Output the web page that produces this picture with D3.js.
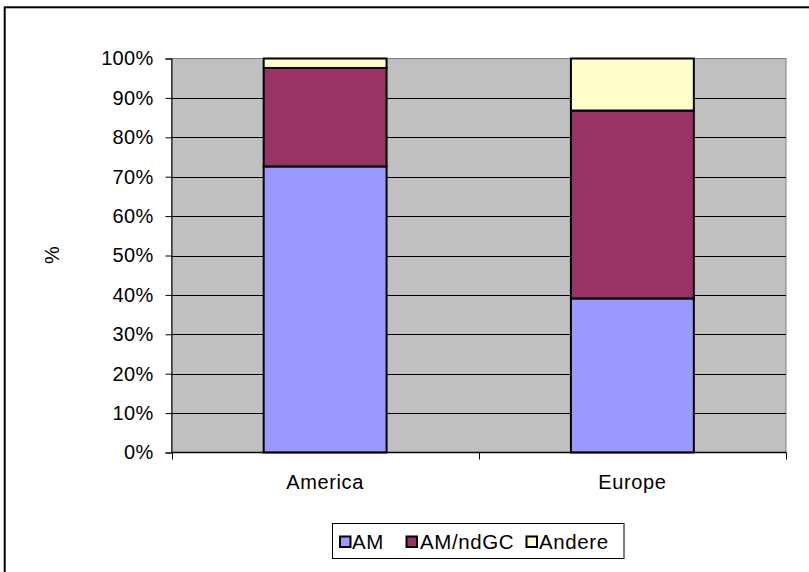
<!DOCTYPE html>
<html>
<head>
<meta charset="utf-8">
<script src="https://cdn.jsdelivr.net/npm/d3@7"></script>
<style>
  html, body { margin: 0; padding: 0; background: #fff; }
  svg { display: block; font-family: Arial, "Liberation Sans", sans-serif; }
</style>
</head>
<body>
<svg id="chart" width="809" height="572"></svg>
<script>
// Regions on the x axis
const categories = ["America", "Europe"];
// Stacked shares (percent) per series, in stacking order
const seriesNames = ["AM", "AM/ndGC", "Andere"];
const amValues = [72.6, 39.1];
const amNdgcValues = [25.0, 47.7];
const andereValues = [2.4, 13.2];
const seriesColors = ["#9999FF", "#993366", "#FFFFCC"];
const yTicks = [0, 10, 20, 30, 40, 50, 60, 70, 80, 90, 100];
const yTitle = "%";

const svg = d3.select("#chart");
const W = 809, H = 572;
const FONT = 20;

// outer frame
svg.append("rect")
  .attr("x", 4.7).attr("y", 7.3)
  .attr("width", W + 10).attr("height", H + 10)
  .attr("fill", "#fff").attr("stroke", "#000").attr("stroke-width", 2);

const plot = { left: 171.5, right: 786, top: 58.5, bottom: 452.5 };

const x = d3.scaleBand()
  .domain(categories)
  .range([plot.left, plot.right])
  .paddingInner(0.6)
  .paddingOuter(0.3);

const y = d3.scaleLinear().domain([0, 100]).range([plot.bottom, plot.top]);

// plot background
svg.append("rect")
  .attr("x", plot.left).attr("y", plot.top)
  .attr("width", plot.right - plot.left).attr("height", plot.bottom - plot.top)
  .attr("fill", "#C0C0C0").attr("stroke", "#808080").attr("stroke-width", 1);

// horizontal gridlines
svg.append("g").selectAll("line")
  .data(yTicks.filter(d => d > 0 && d < 100))
  .join("line")
  .attr("x1", plot.left).attr("x2", plot.right)
  .attr("y1", d => Math.round(y(d)) + 0.5).attr("y2", d => Math.round(y(d)) + 0.5)
  .attr("stroke", "#000").attr("stroke-width", 1);

// stacked bars
const table = categories.map((c, i) => ({
  category: c,
  "AM": amValues[i],
  "AM/ndGC": amNdgcValues[i],
  "Andere": andereValues[i]
}));
const stacked = d3.stack().keys(seriesNames)(table);

svg.append("g").selectAll("g")
  .data(stacked)
  .join("g")
  .attr("fill", (d, i) => seriesColors[i])
  .selectAll("rect")
  .data(d => d)
  .join("rect")
  .attr("x", d => x(d.data.category))
  .attr("width", x.bandwidth())
  .attr("y", d => y(d[1]))
  .attr("height", d => y(d[0]) - y(d[1]))
  .attr("stroke", "#000").attr("stroke-width", 2);

// y axis
const yAxis = d3.axisLeft(y)
  .tickValues(yTicks)
  .tickFormat(d => d + "%")
  .tickSize(6)
  .tickPadding(12);
const gy = svg.append("g")
  .attr("transform", `translate(${plot.left},0)`)
  .call(yAxis);
gy.select(".domain").attr("stroke", "#000").attr("stroke-width", 1);
gy.selectAll(".tick line").attr("stroke", "#000");
gy.selectAll("text")
  .attr("font-size", FONT)
  .attr("fill", "#000")
  .attr("letter-spacing", 0.3)
  .attr("font-family", "Arial, 'Liberation Sans', sans-serif");

// x axis: ticks at category boundaries
const xAxisLine = svg.append("g");
xAxisLine.append("line")
  .attr("x1", plot.left).attr("x2", plot.right)
  .attr("y1", plot.bottom).attr("y2", plot.bottom)
  .attr("stroke", "#000").attr("stroke-width", 1.5);
const boundaries = [plot.left, ...categories.map(c => x(c) + x.bandwidth() / 2 + x.step() / 2)];
xAxisLine.selectAll("line.b")
  .data(boundaries)
  .join("line")
  .attr("class", "b")
  .attr("x1", d => Math.round(d) + 0.5).attr("x2", d => Math.round(d) + 0.5)
  .attr("y1", plot.bottom).attr("y2", plot.bottom + 7)
  .attr("stroke", "#000").attr("stroke-width", 1);

svg.append("g").selectAll("text")
  .data(categories)
  .join("text")
  .attr("x", d => x(d) + x.bandwidth() / 2)
  .attr("y", 489)
  .attr("text-anchor", "middle")
  .attr("font-size", FONT)
  .attr("letter-spacing", 0.6)
  .attr("fill", "#000")
  .text(d => d);

// y axis title
svg.append("text")
  .attr("transform", "translate(59,255) rotate(-90)")
  .attr("text-anchor", "middle")
  .attr("font-size", FONT)
  .attr("fill", "#000")
  .text(yTitle);

// legend
const legend = svg.append("g");
legend.append("rect")
  .attr("x", 332.5).attr("y", 523.5)
  .attr("width", 291.5).attr("height", 35)
  .attr("fill", "#fff").attr("stroke", "#000").attr("stroke-width", 1);

const legendItems = [
  { name: seriesNames[0], color: seriesColors[0], sx: 340, tx: 352 },
  { name: seriesNames[1], color: seriesColors[1], sx: 406.5, tx: 420 },
  { name: seriesNames[2], color: seriesColors[2], sx: 526.5, tx: 539 }
];
const li = legend.selectAll("g.item").data(legendItems).join("g").attr("class", "item");
li.append("rect")
  .attr("x", d => d.sx).attr("y", 536.5)
  .attr("width", 10.5).attr("height", 10.5)
  .attr("fill", d => d.color)
  .attr("stroke", "#000").attr("stroke-width", 2);
li.append("text")
  .attr("x", d => d.tx).attr("y", 548.5)
  .attr("font-size", 20.5)
  .attr("letter-spacing", 0.6)
  .attr("fill", "#000")
  .text(d => d.name);
</script>
</body>
</html>
